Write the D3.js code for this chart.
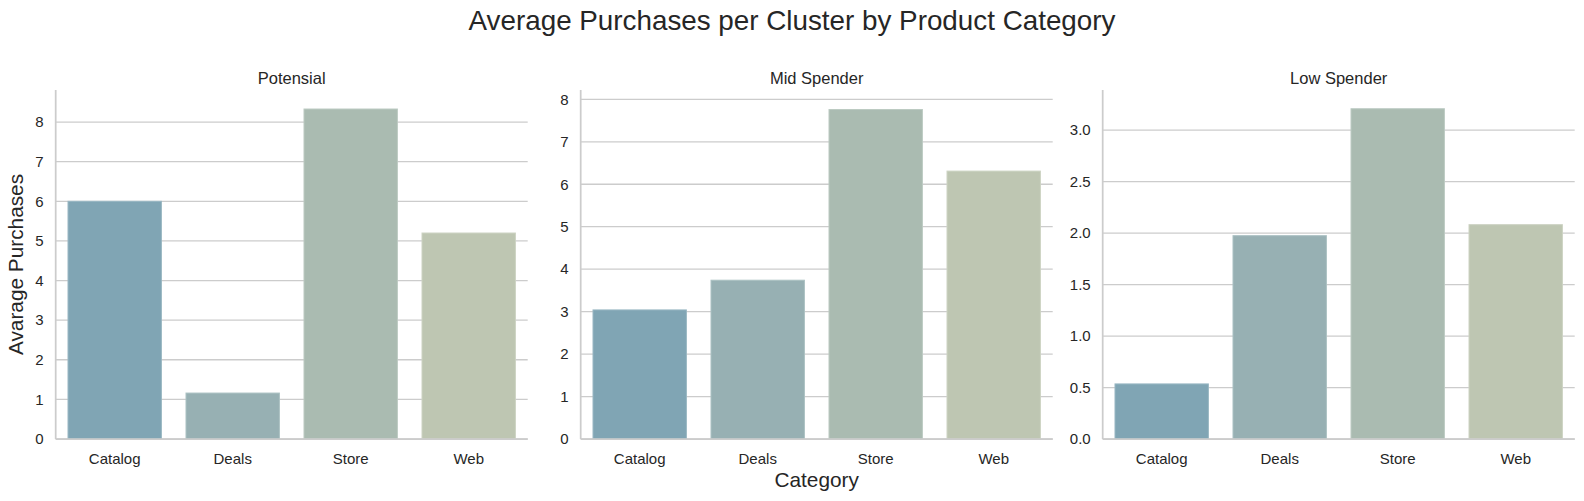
<!DOCTYPE html>
<html>
<head>
<meta charset="utf-8">
<script src="https://cdn.jsdelivr.net/npm/d3@7"></script>
<style>
  html, body { margin: 0; padding: 0; background: #ffffff; }
  svg { display: block; }
  text { font-family: "Liberation Sans", Arial, sans-serif; fill: #262626; }
</style>
</head>
<body>
<svg id="chart" width="1584" height="501"></svg>
<script>
// ---- data ----
const categories = ["Catalog", "Deals", "Store", "Web"];
const clusters = ["Potensial", "Mid Spender", "Low Spender"];
const potensialValues = [6.00, 1.16, 8.33, 5.20];
const midSpenderValues = [3.04, 3.74, 7.76, 6.31];
const lowSpenderValues = [0.535, 1.975, 3.208, 2.082];
const yLimits = [8.81, 8.22, 3.39];
const potensialTicks = [0, 1, 2, 3, 4, 5, 6, 7, 8];
const midSpenderTicks = [0, 1, 2, 3, 4, 5, 6, 7, 8];
const lowSpenderTicks = [0.0, 0.5, 1.0, 1.5, 2.0, 2.5, 3.0];
const tickFormats = [d3.format("d"), d3.format("d"), d3.format(".1f")];
const barColors = ["#80a5b4", "#97b0b3", "#aabbb1", "#bec6b2"];
const edgeColors = ["#99b7c3", "#abc1c3", "#bccac2", "#cdd3c3"];

const panels = [
  { title: clusters[0], values: potensialValues, ticks: potensialTicks },
  { title: clusters[1], values: midSpenderValues, ticks: midSpenderTicks },
  { title: clusters[2], values: lowSpenderValues, ticks: lowSpenderTicks }
];

// ---- layout ----
const svg = d3.select("#chart");
const panelLefts = [55.7, 580.7, 1102.7];
const panelWidth = 472;
const plotTop = 90, plotBottom = 439;

svg.append("text")
  .attr("x", 792).attr("y", 30)
  .attr("text-anchor", "middle")
  .style("font-size", "27.8px")
  .text("Average Purchases per Cluster by Product Category");

panels.forEach((p, i) => {
  const x0 = panelLefts[i];
  const g = svg.append("g").attr("transform", `translate(${x0},0)`);
  const x = d3.scaleBand().domain(categories).range([0, panelWidth]).paddingInner(0.2).paddingOuter(0.1);
  const y = d3.scaleLinear().domain([0, yLimits[i]]).range([plotBottom, plotTop]);

  // grid
  g.append("g").selectAll("line").data(p.ticks).join("line")
    .attr("x1", 0).attr("x2", panelWidth)
    .attr("y1", d => y(d)).attr("y2", d => y(d))
    .attr("stroke", "#cccccc").attr("stroke-width", 1.3);

  // bars
  g.append("g").selectAll("rect").data(p.values).join("rect")
    .attr("x", (d, j) => x(categories[j]) + 0.5)
    .attr("width", x.bandwidth() - 1)
    .attr("y", d => y(d))
    .attr("height", d => y(0) - y(d))
    .attr("fill", (d, j) => barColors[j])
    .attr("stroke", (d, j) => edgeColors[j])
    .attr("stroke-width", 1);

  // y axis
  const yAxis = d3.axisLeft(y).tickValues(p.ticks).tickFormat(tickFormats[i]).tickSize(0).tickPadding(12);
  const ya = g.append("g").call(yAxis);
  ya.select(".domain").remove();
  ya.selectAll("text").style("font-size", "15px").style("font-family", "Liberation Sans, Arial, sans-serif").attr("fill", "#262626");

  // x axis
  const xAxis = d3.axisBottom(x).tickSize(0).tickPadding(14);
  const xa = g.append("g").attr("transform", `translate(0,${plotBottom})`).call(xAxis);
  xa.select(".domain").remove();
  xa.selectAll("text").style("font-size", "15px").style("font-family", "Liberation Sans, Arial, sans-serif").attr("fill", "#262626");

  // spines
  g.append("line").attr("x1", 0).attr("x2", 0).attr("y1", plotTop).attr("y2", plotBottom)
    .attr("stroke", "#cccccc").attr("stroke-width", 1.75);
  g.append("line").attr("x1", 0).attr("x2", panelWidth).attr("y1", plotBottom).attr("y2", plotBottom)
    .attr("stroke", "#cccccc").attr("stroke-width", 1.75);

  // panel title
  g.append("text").attr("x", panelWidth / 2).attr("y", 84)
    .attr("text-anchor", "middle").style("font-size", "16.5px").text(p.title);
});

// axis labels
svg.append("text")
  .attr("transform", `translate(23,${(plotTop + plotBottom) / 2}) rotate(-90)`)
  .attr("text-anchor", "middle").style("font-size", "20.8px")
  .text("Avarage Purchases");

svg.append("text")
  .attr("x", panelLefts[1] + panelWidth / 2).attr("y", 487)
  .attr("text-anchor", "middle").style("font-size", "20.8px")
  .text("Category");
</script>
</body>
</html>
